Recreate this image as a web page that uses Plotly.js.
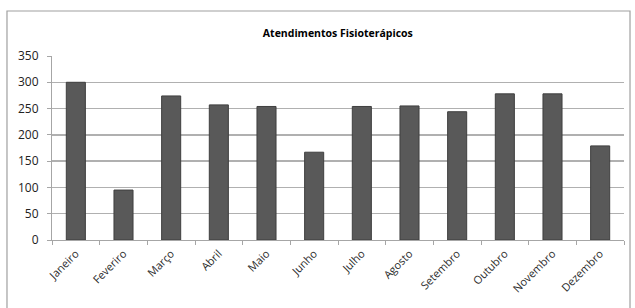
<!DOCTYPE html>
<html>
<head>
<meta charset="utf-8">
<script src="https://cdn.plot.ly/plotly-3.0.1.min.js"></script>
<style>
html,body{margin:0;padding:0;background:#fff;}
#chart{width:635px;height:308px;}
</style>
</head>
<body>
<div id="chart"></div>
<script>
const months = ["Janeiro","Feveriro","Março","Abril","Maio","Junho","Julho","Agosto","Setembro","Outubro","Novembro","Dezembro"];
const atendimentos = [300, 95, 274, 257, 254, 167, 254, 255, 244, 278, 278, 179];
const yTicks = [0, 50, 100, 150, 200, 250, 300, 350];
const chartTitle = "Atendimentos Fisioterápicos";

const trace = {
  type: "bar",
  x: months,
  y: atendimentos,
  marker: {color: "#595959", line: {color: "#3f3f3f", width: 1}},
  hoverinfo: "x+y"
};

const layout = {
  width: 635, height: 308,
  margin: {l: 52, r: 11, t: 56, b: 68},
  paper_bgcolor: "#fff", plot_bgcolor: "#fff",
  bargap: 0.6,
  showlegend: false,
  font: {family: "Open Sans, Liberation Sans, sans-serif", color: "#333", size: 11},
  title: {
    text: "<b>" + chartTitle + "</b>",
    font: {family: "Open Sans, sans-serif", size: 10.5, color: "#000"},
    x: 0.532, xanchor: "center", y: 0.893, yanchor: "middle"
  },
  xaxis: {
    type: "category",
    tickangle: -45,
    showline: true, linecolor: "#a6a6a6", linewidth: 1,
    ticks: "outside", ticklen: 4, tickcolor: "#a6a6a6",
    tickson: "boundaries",
    showgrid: false,
    ticklabelstandoff: 2,
    tickfont: {size: 11, color: "#2b2b2b"}
  },
  yaxis: {
    range: [0, 350],
    tickvals: yTicks,
    showline: true, linecolor: "#a6a6a6", linewidth: 1,
    ticks: "outside", ticklen: 4, tickcolor: "#a6a6a6",
    showgrid: true, gridcolor: "#b0b0b0", gridwidth: 1.4,
    zeroline: false,
    ticklabelstandoff: 6,
    tickfont: {size: 12, color: "#222"}
  },
  shapes: [{
    type: "rect", xref: "paper", yref: "paper",
    x0: -0.0787, x1: 1.0105, y0: -0.45, y1: 1.2446,
    line: {color: "#a0a0a0", width: 1.2}, fillcolor: "rgba(0,0,0,0)", layer: "below"
  }]
};

Plotly.newPlot("chart", [trace], layout, {displayModeBar: false, staticPlot: true});
</script>
</body>
</html>
